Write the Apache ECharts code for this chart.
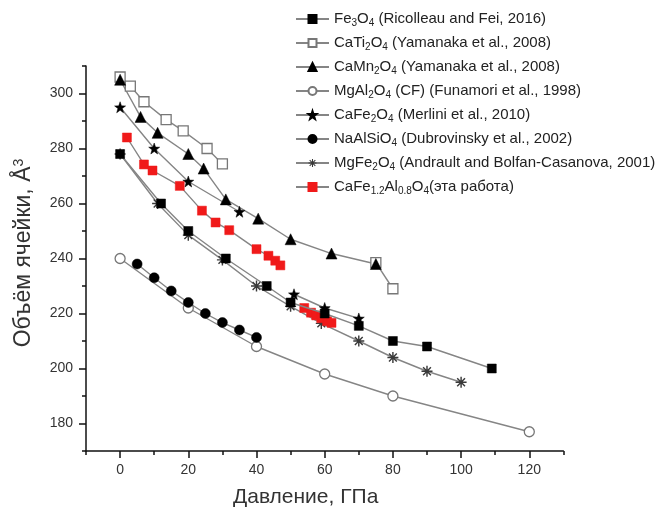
<!DOCTYPE html>
<html><head><meta charset="utf-8">
<script src="https://cdn.jsdelivr.net/npm/echarts@6/dist/echarts.min.js"></script>
<style>html,body{margin:0;padding:0;background:#fff}#c{width:661px;height:513px}</style>
</head><body><div id="c"></div>
<script>
// ---- data (pressure GPa, volume Å^3) ----
const fe3o4 = [[0,278],[12,260],[20,250],[31,240],[43,230],[50,224],[60,220],[70,215.5],[80,210],[90,208],[109,200]];
const cati2o4Low = [[0,306],[3,302.7],[7,297],[13.5,290.5],[18.5,286.4],[25.5,280],[30,274.4]];
const cati2o4High = [[75,238.5],[80,229]];
const camn2o4 = [[0,305],[6,291.5],[11,285.7],[20,278],[24.5,272.7],[31,261.5],[40.5,254.5],[50,247],[62,241.8],[75,238]];
const mgal2o4 = [[0,240],[20,222],[40,208],[60,198],[80,190],[120,177]];
const cafe2o4Low = [[0,295],[10,280],[20,268],[35,257]];
const cafe2o4High = [[51,227],[60,222],[70,218.2]];
const naalsio4 = [[5,238],[10,233],[15,228.2],[20,224],[25,220],[30,216.7],[35,214],[40,211.3]];
const mgfe2o4 = [[0,278],[11,260],[20,248.5],[30,239.5],[40,230],[50,222.6],[59,216.4],[70,210],[80,204],[90,199],[100,195]];
const redLow = [[2,284],[7,274.2],[9.5,272],[17.5,266.4],[24,257.4],[28,253.1],[32,250.3],[40,243.4],[43.5,241],[45.5,239.2],[47,237.5]];
const redHigh = [[54,222],[56,220.3],[57.5,219.3],[59,218.3],[60.7,217.2],[62,216.6]];

const seriesNames = [
  'Fe3O4 (Ricolleau and Fei, 2016)',
  'CaTi2O4 (Yamanaka et al., 2008)',
  'CaMn2O4 (Yamanaka et al., 2008)',
  'MgAl2O4 (CF) (Funamori et al., 1998)',
  'CaFe2O4 (Merlini et al., 2010)',
  'NaAlSiO4 (Dubrovinsky et al., 2002)',
  'MgFe2O4 (Andrault and Bolfan-Casanova, 2001)',
  'CaFe1.2Al0.8O4(эта работа)'
];
const legendLabels = [
  'Fe{s|3}O{s|4} (Ricolleau and Fei, 2016)',
  'CaTi{s|2}O{s|4} (Yamanaka et al., 2008)',
  'CaMn{s|2}O{s|4} (Yamanaka et al., 2008)',
  'MgAl{s|2}O{s|4} (CF) (Funamori et al., 1998)',
  'CaFe{s|2}O{s|4} (Merlini et al., 2010)',
  'NaAlSiO{s|4} (Dubrovinsky et al., 2002)',
  'MgFe{s|2}O{s|4} (Andrault and Bolfan-Casanova, 2001)',
  'CaFe{s|1.2}Al{s|0.8}O{s|4}(эта работа)'
];

const xMajorTicks = [0,20,40,60,80,100,120];
const xMinorTicks = [-10,10,30,50,70,90,110,130];
const yMajorTicks = [180,200,220,240,260,280,300];
const yMinorTicks = [170,190,210,230,250,270,290,310];

const xTitle = 'Давление, ГПа';
const yTitle = 'Объём ячейки, Å{sup|3}';

// ---- styles ----
const FONT = '"Liberation Sans", Arial, sans-serif';
const LINE = {color:'#858585', width:1.4};
const STAR = 'path://M0,-10 L2.35,-3.24 L9.51,-3.09 L3.8,1.24 L5.88,8.09 L0,4 L-5.88,8.09 L-3.8,1.24 L-9.51,-3.09 L-2.35,-3.24 Z';
const AST = 'path://M-0.65,-5 h1.3 v10 h-1.3 Z M-5,-0.65 h10 v1.3 h-10 Z M-3.08,-4.0 L4.0,3.08 L3.08,4.0 L-4.0,-3.08 Z M-4.0,3.08 L3.08,-4.0 L4.0,-3.08 L-3.08,4.0 Z';

function mk(name, data, symbol, size, item, z) {
  return {type:'line', name, data, symbol, symbolSize:size, showSymbol:true,
    lineStyle:LINE, itemStyle:item, emphasis:{disabled:true}, animation:false, z:z || 3};
}
const filled = {color:'#000', borderColor:'#000', borderWidth:0.5};
const open = {color:'#fff', borderColor:'#777', borderWidth:1.3};

const series = [
  mk(seriesNames[0], fe3o4, 'rect', 9, filled, 4),
  mk(seriesNames[1], cati2o4Low, 'rect', 10, open),
  mk(seriesNames[1], cati2o4High, 'rect', 10, open),
  mk(seriesNames[2], camn2o4, 'triangle', 11, filled),
  mk(seriesNames[3], mgal2o4, 'circle', 10, open),
  mk(seriesNames[4], cafe2o4Low, STAR, 11, filled),
  mk(seriesNames[4], cafe2o4High, STAR, 11, filled),
  mk(seriesNames[5], naalsio4, 'circle', 10, filled),
  mk(seriesNames[6], mgfe2o4, AST, 11, {color:'#3a3a3a'}),
  mk(seriesNames[7], redLow, 'rect', 9, {color:'#f01a1a', borderColor:'#f01a1a', borderWidth:0.5}),
  mk(seriesNames[7], redHigh, 'rect', 9, {color:'#f01a1a', borderColor:'#f01a1a', borderWidth:0.5})
];

const chart = echarts.init(document.getElementById('c'), null, {renderer:'canvas'});
chart.setOption({
  backgroundColor:'#fff',
  textStyle:{fontFamily:FONT},
  grid:{left:86, top:66, right:97.6, bottom:62, containLabel:false},
  legend:{
    orient:'vertical', left:290, top:5, itemWidth:33, itemHeight:10, itemGap:6,
    data:seriesNames,
    formatter:(n)=>legendLabels[seriesNames.indexOf(n)],
    textStyle:{fontFamily:FONT, fontSize:15, color:'#222', lineHeight:18,
      rich:{s:{fontFamily:FONT, fontSize:10, lineHeight:10, verticalAlign:'bottom', color:'#222'}}},
    selectedMode:false
  },
  xAxis:[
    {type:'value', min:-10, max:130, position:'bottom',
      axisLine:{show:true, onZero:false, lineStyle:{color:'#111', width:1.5}}, splitLine:{show:false},
      axisTick:{show:true, customValues:xMajorTicks, length:7, lineStyle:{color:'#111', width:1.5}},
      axisLabel:{customValues:xMajorTicks, fontSize:14, color:'#333', margin:12, fontFamily:FONT}},
    {type:'value', min:-10, max:130, position:'bottom',
      axisLine:{show:false, onZero:false}, splitLine:{show:false},
      axisTick:{show:true, customValues:xMinorTicks, length:4, lineStyle:{color:'#111', width:1.5}},
      axisLabel:{show:false}}
  ],
  yAxis:[
    {type:'value', min:170, max:310, position:'left',
      axisLine:{show:true, onZero:false, lineStyle:{color:'#111', width:1.5}}, splitLine:{show:false},
      axisTick:{show:true, customValues:yMajorTicks, length:7, lineStyle:{color:'#111', width:1.5}},
      axisLabel:{customValues:yMajorTicks, fontSize:14, color:'#333', margin:13, fontFamily:FONT}},
    {type:'value', min:170, max:310, position:'left',
      axisLine:{show:false, onZero:false}, splitLine:{show:false},
      axisTick:{show:true, customValues:yMinorTicks, length:4, lineStyle:{color:'#111', width:1.5}},
      axisLabel:{show:false}}
  ],
  graphic:[
    {type:'text', left:233, top:487, style:{text:xTitle, font:'21px ' + FONT, fill:'#333'}},
    {type:'text', x:24, y:253, rotation:Math.PI/2, originX:0, originY:0,
      style:{text:yTitle, fill:'#333', font:'23px ' + FONT, align:'center', verticalAlign:'middle',
        rich:{sup:{fontSize:14, verticalAlign:'top', fill:'#333', fontFamily:FONT}}}}
  ],
  series
});
</script>
</body></html>
